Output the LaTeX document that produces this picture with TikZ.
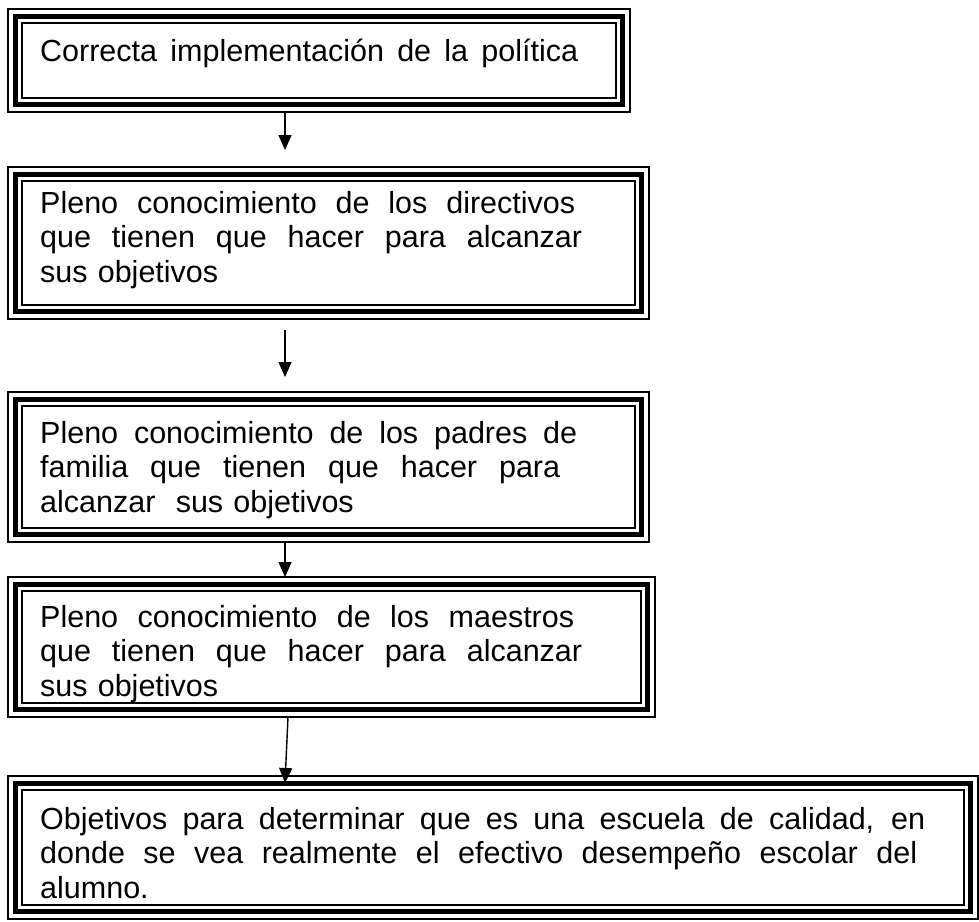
\documentclass[tikz,border=0pt]{standalone}
\usepackage{fontspec}
\setmainfont{Liberation Sans}
\usetikzlibrary{arrows.meta}

% one justified line of a box text
\newcommand{\jline}[2]{\makebox[#1][s]{\spaceskip=0.28em plus 1em\relax #2}}

\begin{document}
\begin{tikzpicture}[x=1pt,y=-1pt,
    frame/.style={draw,line width=1.5pt,rectangle,anchor=north west,outer sep=0pt,inner sep=0pt},
    boxtext/.style={anchor=north west,inner sep=0pt,align=left,
        font=\fontsize{30.5}{34.5}\selectfont},
    arr/.style={line width=1.4pt,-{Triangle[length=15pt,width=13pt]}}]

            \useasboundingbox (0,0) rectangle (979,921);

            % frames
            \node[frame,minimum width=622pt,minimum height=103pt] (b1) at (8,9) {};
            \node[frame,minimum width=641pt,minimum height=152pt] (b2) at (8,167) {};
            \node[frame,minimum width=641pt,minimum height=150pt] (b3) at (8,392) {};
            \node[frame,minimum width=647pt,minimum height=140pt] (b4) at (8,577) {};
            \node[frame,minimum width=970pt,minimum height=143pt] (b5) at (8,776) {};

            % thick and inner lines of the frames
            \foreach \b in {b1,b2,b3,b4,b5} {
                \draw[line width=5.5pt] ([xshift=7.5pt,yshift=-7.5pt]\b.north west)
                    rectangle ([xshift=-7.5pt,yshift=7.5pt]\b.south east);
                \draw[line width=1.8pt] ([xshift=13.7pt,yshift=-13.7pt]\b.north west)
                    rectangle ([xshift=-13.7pt,yshift=13.7pt]\b.south east);
            }

            % texts
            \node[boxtext,text width=558pt] (t1) at ([xshift=32pt,yshift=-27.9pt]b1.north west)
                {\strut\jline{538pt}{Correcta implementación de la política}};
            \node[boxtext,text width=577pt] (t2) at ([xshift=32pt,yshift=-21.9pt]b2.north west)
                {\strut\jline{535pt}{Pleno conocimiento de los directivos}\\
                 \jline{542pt}{que tienen que hacer para alcanzar}\\
                 sus objetivos};
            \node[boxtext,text width=577pt] (t3) at ([xshift=32pt,yshift=-26.9pt]b3.north west)
                {\strut\jline{537pt}{Pleno conocimiento de los padres de}\\
                 \jline{520pt}{familia que tienen que hacer para}\\
                 alcanzar\ \ sus objetivos};
            \node[boxtext,text width=583pt] (t4) at ([xshift=32pt,yshift=-25.9pt]b4.north west)
                {\strut\jline{534pt}{Pleno conocimiento de los maestros}\\
                 \jline{542pt}{que tienen que hacer para alcanzar}\\
                 sus objetivos};
            \node[boxtext,text width=906pt] (t5) at ([xshift=32pt,yshift=-28.9pt]b5.north west)
                {\strut\jline{885pt}{Objetivos para determinar que es una escuela de calidad, en}\\
                 \jline{877pt}{donde se vea realmente el efectivo desempeño escolar del}\\
                 alumno.};

            \coordinate (a1) at (285,150);
            \coordinate (a2s) at (285,330);
            \coordinate (a2e) at (285,377);
            \coordinate (a3) at (285,560);
            \coordinate (a4s) at (288,700);
            \coordinate (a4e) at (285,783);

            \draw[arr] (b1.south -| a1) -- (a1);
            \draw[arr] (a2s) -- (a2e);
            \draw[arr] (b3.south -| a3) -- (b4.north -| a3);
            \draw[arr] (b4.south -| a4s) -- (a4e);

        \end{tikzpicture}
\end{document}
